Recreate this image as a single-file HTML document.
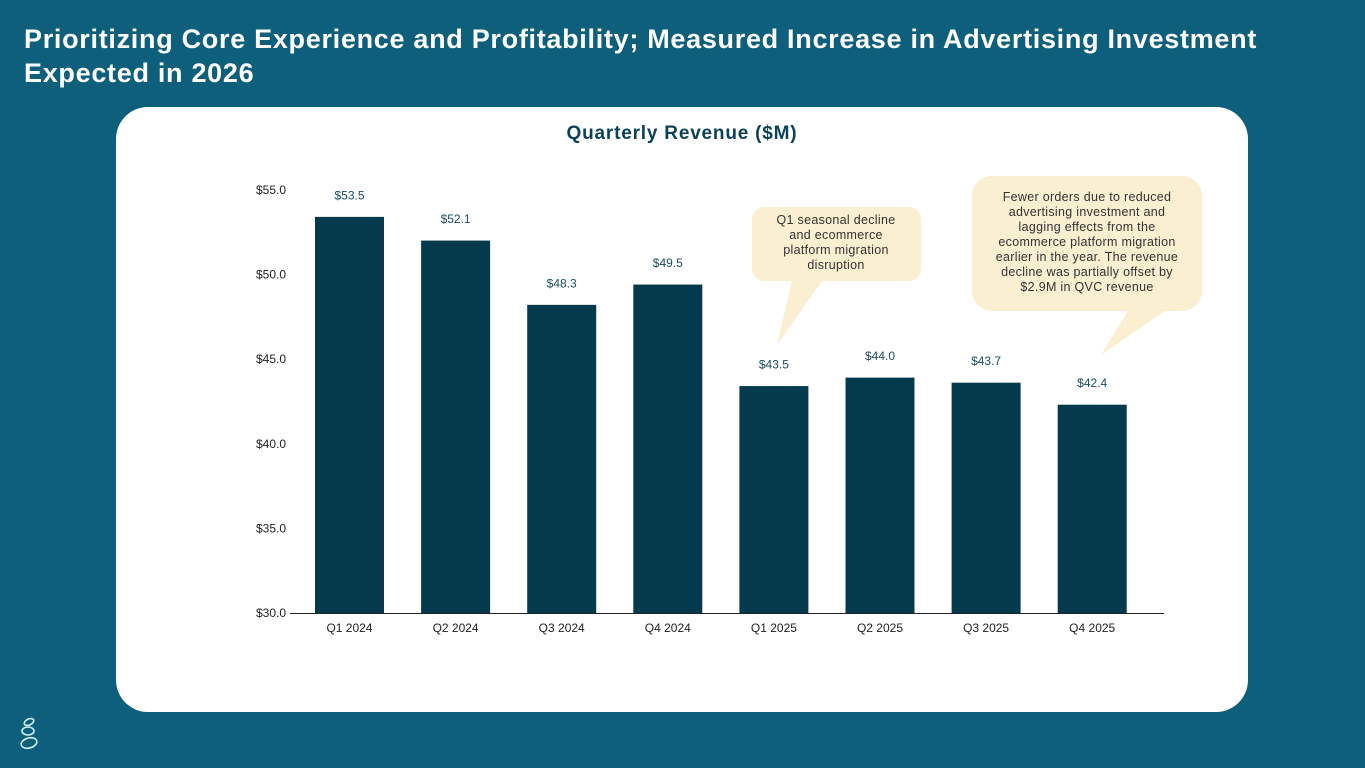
<!DOCTYPE html>
<html><head><meta charset="utf-8"><style>
body{margin:0;width:1365px;height:768px;background:#0d5f7b;overflow:hidden;font-family:"Liberation Sans",sans-serif}
#title{position:absolute;left:24px;top:22px;color:#fff;font-weight:bold;font-size:27px;line-height:34px;letter-spacing:0.7px}
#card{position:absolute;left:116px;top:107px;width:1132px;height:605px;background:#fff;border-radius:32px}
svg{position:absolute;left:0;top:0}
</style></head><body>
<div id="title">Prioritizing Core Experience and Profitability; Measured Increase in Advertising Investment<br>Expected in 2026</div>
<div id="card"></div>
<svg width="1365" height="768" id="chart">
<text x="682" y="139" text-anchor="middle" font-size="19" font-weight="bold" letter-spacing="0.8" fill="#0b4257">Quarterly Revenue ($M)</text>
<g id="bars"></g>
<g>
<path d="M764,207 H909 a12,12 0 0 1 12,12 V269 a12,12 0 0 1 -12,12 H822 L777,345 L792,281 H764 a12,12 0 0 1 -12,-12 V219 a12,12 0 0 1 12,-12 Z" fill="#fbefd2"/>
<text font-size="12.5" fill="#333" text-anchor="middle" letter-spacing="0.3"><tspan x="836" y="224">Q1 seasonal decline</tspan><tspan x="836" y="239">and ecommerce</tspan><tspan x="836" y="254">platform migration</tspan><tspan x="836" y="269">disruption</tspan></text>
</g>
<g>
<path d="M992,176 H1182 a20,20 0 0 1 20,20 V291 a20,20 0 0 1 -20,20 H1165 L1101,355 L1128,311 H992 a20,20 0 0 1 -20,-20 V196 a20,20 0 0 1 20,-20 Z" fill="#fbefd2"/>
<text font-size="12.5" fill="#333" text-anchor="middle" letter-spacing="0.3"><tspan x="1087" y="201">Fewer orders due to reduced</tspan><tspan x="1087" y="216">advertising investment and</tspan><tspan x="1087" y="231">lagging effects from the</tspan><tspan x="1087" y="246">ecommerce platform migration</tspan><tspan x="1087" y="261">earlier in the year. The revenue</tspan><tspan x="1087" y="276">decline was partially offset by</tspan><tspan x="1087" y="291">$2.9M in QVC revenue</tspan></text>
</g>
<g fill="none" stroke="#cfeef5" stroke-width="1.6">
<ellipse cx="29" cy="722" rx="5" ry="3" transform="rotate(-25 29 722)"/>
<ellipse cx="28" cy="731" rx="6" ry="4"/>
<ellipse cx="29" cy="743" rx="8" ry="5" transform="rotate(-15 29 743)"/>
</g>
</svg>
<script>
const categories=["Q1 2024","Q2 2024","Q3 2024","Q4 2024","Q1 2025","Q2 2025","Q3 2025","Q4 2025"];
const revenue=[53.5,52.1,48.3,49.5,43.5,44.0,43.7,42.4];
const yTicks=[30,35,40,45,50,55];
const NS="http://www.w3.org/2000/svg";
const g=document.getElementById('bars');
const y=v=>613-(v-30)*(423/25);
const xc=i=>349.5+i*106.1;
function el(t,a,txt){const e=document.createElementNS(NS,t);for(const k in a)e.setAttribute(k,a[k]);if(txt!=null)e.textContent=txt;g.appendChild(e);return e;}
yTicks.forEach(t=>{
const e=el('text',{x:286,y:y(t)+4,'text-anchor':'end','font-size':12,fill:'#222'},'$'+t.toFixed(1));


});
revenue.forEach((v,i)=>{
const r=el('rect',{x:xc(i)-34.5,y:y(v)+1.5,width:69,height:613-y(v)-1.5,fill:'#043a4c'});


const l=el('text',{x:xc(i),y:y(v)-16,'text-anchor':'middle','font-size':12,fill:'#1b4d63'},'$'+v.toFixed(1));


const c=el('text',{x:xc(i),y:632,'text-anchor':'middle','font-size':12,fill:'#222'},categories[i]);


});
const ax=el('line',{x1:290,x2:1164,y1:613.5,y2:613.5,stroke:'#222','stroke-width':1});


</script>
</body></html>
